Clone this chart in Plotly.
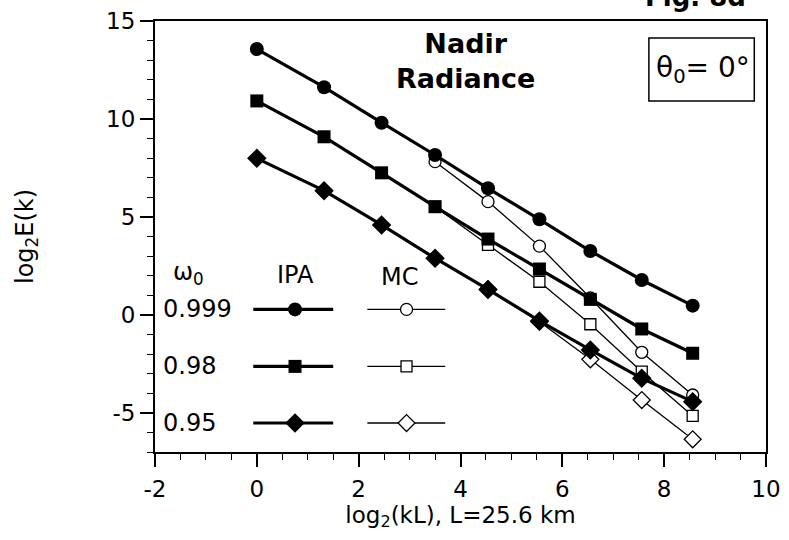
import plotly.graph_objects as go

# ---------------- data ----------------
x_ipa = [0, 1.32, 2.45, 3.5, 4.54, 5.55, 6.55, 7.56, 8.56]
ipa_999 = [13.57, 11.62, 9.81, 8.16, 6.46, 4.88, 3.26, 1.78, 0.47]
ipa_98 = [10.92, 9.09, 7.25, 5.52, 3.87, 2.34, 0.79, -0.72, -1.96]
ipa_95 = [7.99, 6.34, 4.59, 2.89, 1.30, -0.31, -1.79, -3.24, -4.43]

x_mc_999 = [3.5, 4.54, 5.55, 6.55, 7.56, 8.56]
mc_999 = [7.82, 5.78, 3.51, 0.86, -1.91, -4.09]
x_mc_98 = [3.5, 4.54, 5.55, 6.55, 7.56, 8.56]
mc_98 = [5.52, 3.57, 1.69, -0.48, -2.90, -5.16]
x_mc_95 = [4.54, 5.55, 6.55, 7.56, 8.56]
mc_95 = [1.30, -0.35, -2.27, -4.35, -6.35]

omega_labels = ["0.999", "0.98", "0.95"]
x_tickvals = [-2, 0, 2, 4, 6, 8, 10]
x_ticktext = ["-2", "0", "2", "4", "6", "8", "10"]
y_tickvals = [-5, 0, 5, 10, 15]
y_ticktext = ["-5", "0", "5", "10", "15"]

FONT = "DejaVu Sans"
BLACK = "black"

fig = go.Figure()

symbols = ["circle", "square", "diamond"]
ipa_sets = [ipa_999, ipa_98, ipa_95]
mc_sets = [(x_mc_999, mc_999), (x_mc_98, mc_98), (x_mc_95, mc_95)]

IPA_SIZE = {"circle": 14, "square": 13, "diamond": 15}
MC_SIZE = {"circle": 12, "square": 11, "diamond": 13}

# MC (thin, open markers) drawn first
for (xs, ys), sym in zip(mc_sets, symbols):
    fig.add_trace(go.Scatter(
        x=xs, y=ys, mode="lines+markers",
        line=dict(color=BLACK, width=1.3),
        marker=dict(symbol=sym, size=MC_SIZE[sym], color="white",
                    line=dict(color=BLACK, width=1.3)),
        showlegend=False, hoverinfo="skip"))

# IPA (thick, filled markers)
for ys, sym in zip(ipa_sets, symbols):
    fig.add_trace(go.Scatter(
        x=x_ipa, y=ys, mode="lines+markers",
        line=dict(color=BLACK, width=3.2),
        marker=dict(symbol=sym, size=IPA_SIZE[sym], color=BLACK),
        showlegend=False, hoverinfo="skip"))

# ---------------- in-plot legend ----------------
leg_rows_y = [0.28, -2.63, -5.52]
ipa_seg = (-0.07, 1.50, 0.75)
mc_seg = (2.17, 3.70, 2.94)
for lab, yrow, sym in zip(omega_labels, leg_rows_y, symbols):
    fig.add_trace(go.Scatter(x=[ipa_seg[0], ipa_seg[1]], y=[yrow, yrow], mode="lines",
                             line=dict(color=BLACK, width=3.2), showlegend=False, hoverinfo="skip"))
    fig.add_trace(go.Scatter(x=[ipa_seg[2]], y=[yrow], mode="markers",
                             marker=dict(symbol=sym, size=IPA_SIZE[sym], color=BLACK),
                             showlegend=False, hoverinfo="skip"))
    fig.add_trace(go.Scatter(x=[mc_seg[0], mc_seg[1]], y=[yrow, yrow], mode="lines",
                             line=dict(color=BLACK, width=1.3), showlegend=False, hoverinfo="skip"))
    fig.add_trace(go.Scatter(x=[mc_seg[2]], y=[yrow], mode="markers",
                             marker=dict(symbol=sym, size=MC_SIZE[sym], color="white",
                                         line=dict(color=BLACK, width=1.3)),
                             showlegend=False, hoverinfo="skip"))
    fig.add_annotation(x=-1.88, y=yrow, xref="x", yref="y", text=lab, showarrow=False,
                       xanchor="left", yanchor="middle", font=dict(family=FONT, size=24, color=BLACK))

fig.add_annotation(x=-1.35, y=2.12, xref="x", yref="y", text="ω<sub>0</sub>", showarrow=False,
                   xanchor="center", yanchor="middle", font=dict(family=FONT, size=24, color=BLACK))
fig.add_annotation(x=0.76, y=2.03, xref="x", yref="y", text="IPA", showarrow=False,
                   xanchor="center", yanchor="middle", font=dict(family=FONT, size=24, color=BLACK))
fig.add_annotation(x=2.81, y=1.95, xref="x", yref="y", text="MC", showarrow=False,
                   xanchor="center", yanchor="middle", font=dict(family=FONT, size=24, color=BLACK))

# title text inside plot
fig.add_annotation(x=4.09, y=12.96, xref="x", yref="y", text="<b>Nadir<br>Radiance</b>",
                   showarrow=False, xanchor="center", yanchor="middle",
                   font=dict(family=FONT, size=27, color=BLACK))

# theta box
fig.add_shape(type="rect", xref="x", yref="y", x0=7.70, x1=9.77, y0=10.92, y1=14.13,
              line=dict(color=BLACK, width=1.5), fillcolor="white")
fig.add_annotation(x=8.77, y=12.5, xref="x", yref="y", text="θ<sub>0</sub>= 0°",
                   showarrow=False, xanchor="center", yanchor="middle",
                   font=dict(family=FONT, size=28, color=BLACK))

# Fig label cut at top
fig.add_annotation(x=0.884, y=1.016, xref="paper", yref="paper", text="<b>Fig. 8d</b>",
                   showarrow=False, xanchor="center", yanchor="bottom",
                   font=dict(family=FONT, size=26, color=BLACK))

axis_common = dict(
    showgrid=False, zeroline=False, showline=True, linecolor=BLACK, linewidth=2,
    mirror=True, ticks="outside", ticklen=13, tickwidth=1.5, tickcolor=BLACK,
    tickfont=dict(family=FONT, size=23, color=BLACK),
)

fig.update_xaxes(range=[-2, 10], tickvals=x_tickvals, ticktext=x_ticktext,
                 minor=dict(dtick=0.5, ticks="outside", ticklen=6, tickwidth=1.2, tickcolor=BLACK),
                 ticklabelstandoff=2,
                 title=dict(text="log<sub>2</sub>(kL), L=25.6 km", standoff=2,
                            font=dict(family=FONT, size=23, color=BLACK)),
                 **axis_common)
fig.update_yaxes(range=[-7, 15], tickvals=y_tickvals, ticktext=y_ticktext,
                 minor=dict(dtick=1, ticks="outside", ticklen=6, tickwidth=1.2, tickcolor=BLACK),
                 title=dict(text="log<sub>2</sub>E(k)", standoff=66,
                            font=dict(family=FONT, size=24, color=BLACK)),
                 **axis_common)

fig.update_layout(
    width=789, height=540,
    margin=dict(l=155, r=23, t=21, b=88, autoexpand=False),
    paper_bgcolor="white", plot_bgcolor="white",
    showlegend=False,
)

fig.write_html("out.html")
